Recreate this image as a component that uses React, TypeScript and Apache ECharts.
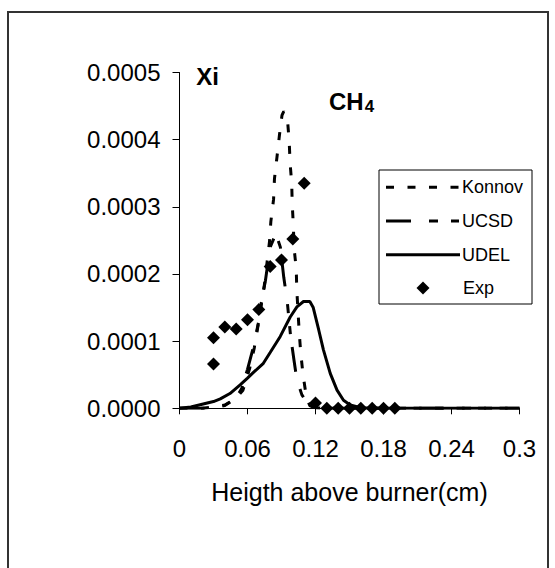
import React, { useEffect, useRef } from "react";
import * as echarts from "echarts";

// Heights above burner (cm) and mole fractions for each model
const konnovX = [0, 0.02, 0.03, 0.04, 0.05, 0.056, 0.062, 0.066, 0.07, 0.075, 0.0794, 0.0806, 0.083, 0.0838, 0.086, 0.0882, 0.0904, 0.092, 0.0953, 0.0968, 0.0976, 0.099, 0.0995, 0.1005, 0.101, 0.103, 0.1035, 0.1056, 0.107, 0.109, 0.112, 0.115, 0.12, 0.3];
const konnovY = [0, 0, 0.000002, 0.000005, 0.000015, 0.000027, 0.00006, 0.00009, 0.00013, 0.000185, 0.000248, 0.000278, 0.000311, 0.000342, 0.000374, 0.000407, 0.000436, 0.000442, 0.000429, 0.000397, 0.000365, 0.000335, 0.000303, 0.000271, 0.00024, 0.000208, 0.000176, 0.000114, 0.000082, 0.00005, 0.000016, 0.000004, 0, 0];

const ucsdX = [0, 0.02, 0.03, 0.04, 0.05, 0.055, 0.06, 0.065, 0.0706, 0.0714, 0.0758, 0.08, 0.085, 0.089, 0.092, 0.095, 0.098, 0.101, 0.1036, 0.108, 0.113, 0.12, 0.13, 0.3];
const ucsdY = [0, 0, 0.000001, 0.000004, 0.000015, 0.00003, 0.000058, 0.00009, 0.000135, 0.00015, 0.00019, 0.00024, 0.00026, 0.00024, 0.000195, 0.00016, 0.000108, 0.000072, 0.000042, 0.00002, 0.000007, 0.000001, 0, 0];

const udelX = [0, 0.01, 0.02, 0.03, 0.036, 0.0445, 0.0535, 0.06, 0.065, 0.074, 0.08, 0.0889, 0.0977, 0.1036, 0.1094, 0.115, 0.118, 0.1228, 0.127, 0.133, 0.139, 0.1447, 0.1506, 0.16, 0.17, 0.3];
const udelY = [0, 0.000002, 0.000006, 0.00001, 0.000014, 0.000022, 0.000035, 0.000045, 0.000053, 0.000067, 0.000083, 0.000107, 0.000136, 0.000151, 0.000159, 0.000159, 0.00015, 0.000117, 0.000087, 0.000052, 0.000027, 0.000012, 0.000005, 0.000001, 0, 0];

const expX = [0.03, 0.03, 0.04, 0.05, 0.06, 0.07, 0.08, 0.09, 0.10, 0.11, 0.12, 0.13, 0.14, 0.15, 0.16, 0.17, 0.18, 0.19];
const expY = [0.000105, 0.000066, 0.000121, 0.000118, 0.000132, 0.000147, 0.000211, 0.000221, 0.000252, 0.000335, 0.000008, 0, 0, 0, 0, 0, 0, 0];

const seriesNames = ["Konnov", "UCSD", "UDEL", "Exp"];

const zip = (xs: number[], ys: number[]) => xs.map((x, i) => [x, ys[i]]);

const FONT = "'Liberation Sans', Arial, sans-serif";

const KONNOV_DASH = [8, 13.5];
const UCSD_DASH = [25, 18, 9, 13, 8, 13];

export default function App() {
  const ref = useRef<HTMLDivElement>(null);
  useEffect(() => {
    if (!ref.current) return;
    const chart = echarts.init(ref.current, undefined, { renderer: "svg" });

    // legend drawn as graphics (box + samples + labels)
    const legX = 379, legY = 170, legW = 153, legH = 134;
    const rowY = [187.3, 221, 254.7, 288];
    const lineX0 = 386, lineX1 = 460, textX = 462;
    const legendGraphics: any[] = [
      {
        type: "rect",
        shape: { x: legX, y: legY, width: legW, height: legH },
        style: { fill: "#fff", stroke: "#000", lineWidth: 1 },
        z: 50,
      },
      {
        type: "line",
        shape: { x1: lineX0, y1: rowY[0], x2: lineX1, y2: rowY[0] },
        style: { stroke: "#000", lineWidth: 3, lineDash: KONNOV_DASH },
        z: 51,
      },
      {
        type: "line",
        shape: { x1: lineX0, y1: rowY[1], x2: lineX1, y2: rowY[1] },
        style: { stroke: "#000", lineWidth: 3, lineDash: UCSD_DASH },
        z: 51,
      },
      {
        type: "line",
        shape: { x1: lineX0, y1: rowY[2], x2: lineX1, y2: rowY[2] },
        style: { stroke: "#000", lineWidth: 3 },
        z: 51,
      },
      {
        type: "polygon",
        shape: {
          points: [
            [423, rowY[3] - 6.5],
            [429.5, rowY[3]],
            [423, rowY[3] + 6.5],
            [416.5, rowY[3]],
          ],
        },
        style: { fill: "#000" },
        z: 51,
      },
      ...seriesNames.map((n, i) => ({
        type: "text",
        x: n === "Exp" ? textX + 1 : textX,
        y: rowY[i],
        z: 51,
        style: {
          text: n,
          fontFamily: FONT,
          fontSize: 18,
          fill: "#000",
          align: "left",
          verticalAlign: "middle",
        },
      })),
    ];

    chart.setOption({
      animation: false,
      backgroundColor: "#fff",
      grid: { left: 179.5, right: 35.5, top: 72.5, bottom: 159.7 },
      xAxis: {
        type: "value",
        min: 0,
        max: 0.3,
        interval: 0.06,
        name: "Heigth above burner(cm)",
        nameLocation: "middle",
        nameGap: 71,
        nameTextStyle: { fontFamily: FONT, fontSize: 25, color: "#000" },
        axisLine: { lineStyle: { color: "#000", width: 1 } },
        axisTick: { show: true, inside: false, length: 6, lineStyle: { color: "#000" } },
        axisLabel: {
          margin: 28,
          fontFamily: FONT,
          fontSize: 24,
          color: "#000",
          formatter: (v: number) => String(parseFloat(v.toFixed(2))),
        },
        splitLine: { show: false },
      },
      yAxis: {
        type: "value",
        min: 0,
        max: 0.0005,
        interval: 0.0001,
        axisLine: { show: true, lineStyle: { color: "#000", width: 1 } },
        axisTick: { show: true, inside: false, length: 7, lineStyle: { color: "#000" } },
        axisLabel: {
          margin: 19,
          fontFamily: FONT,
          fontSize: 24,
          color: "#000",
          formatter: (v: number) => v.toFixed(4),
        },
        splitLine: { show: false },
      },
      series: [
        {
          name: seriesNames[0],
          type: "line",
          data: zip(konnovX, konnovY),
          symbol: "none",
          color: "#000",
          lineStyle: { color: "#000", width: 3, type: KONNOV_DASH },
          z: 3,
        },
        {
          name: seriesNames[1],
          type: "line",
          data: zip(ucsdX, ucsdY),
          symbol: "none",
          color: "#000",
          lineStyle: { color: "#000", width: 3, type: UCSD_DASH },
          z: 3,
        },
        {
          name: seriesNames[2],
          type: "line",
          data: zip(udelX, udelY),
          symbol: "none",
          color: "#000",
          lineStyle: { color: "#000", width: 3, type: "solid" },
          z: 4,
        },
        {
          name: seriesNames[3],
          type: "scatter",
          data: zip(expX, expY),
          symbol: "diamond",
          symbolSize: 13,
          itemStyle: { color: "#000", opacity: 1 },
          z: 5,
        },
      ],
      graphic: [
        {
          type: "rect",
          shape: { x: 8, y: 12, width: 540, height: 580 },
          style: { fill: "none", stroke: "#333", lineWidth: 2 },
          silent: true,
        },
        ...legendGraphics,
        {
          type: "text",
          x: 207.5,
          y: 76.5,
          style: {
            text: "Xi",
            fontFamily: FONT,
            fontSize: 24,
            fontWeight: "bold",
            fill: "#000",
            align: "center",
            verticalAlign: "middle",
          },
        },
        {
          type: "text",
          x: 329,
          y: 101.5,
          style: {
            text: "{b|CH}{s|4}",
            fill: "#000",
            align: "left",
            verticalAlign: "middle",
            rich: {
              b: { fontFamily: FONT, fontSize: 24, fontWeight: "bold", fill: "#000" },
              s: { fontFamily: FONT, fontSize: 17, fontWeight: "bold", fill: "#000", padding: [10, 0, 0, 1] },
            },
          },
        },
      ],
    });
    return () => chart.dispose();
  }, []);
  return (
    <div
      ref={ref}
      style={{ position: "absolute", left: 0, top: 0, width: 555, height: 568, background: "#fff" }}
    />
  );
}
